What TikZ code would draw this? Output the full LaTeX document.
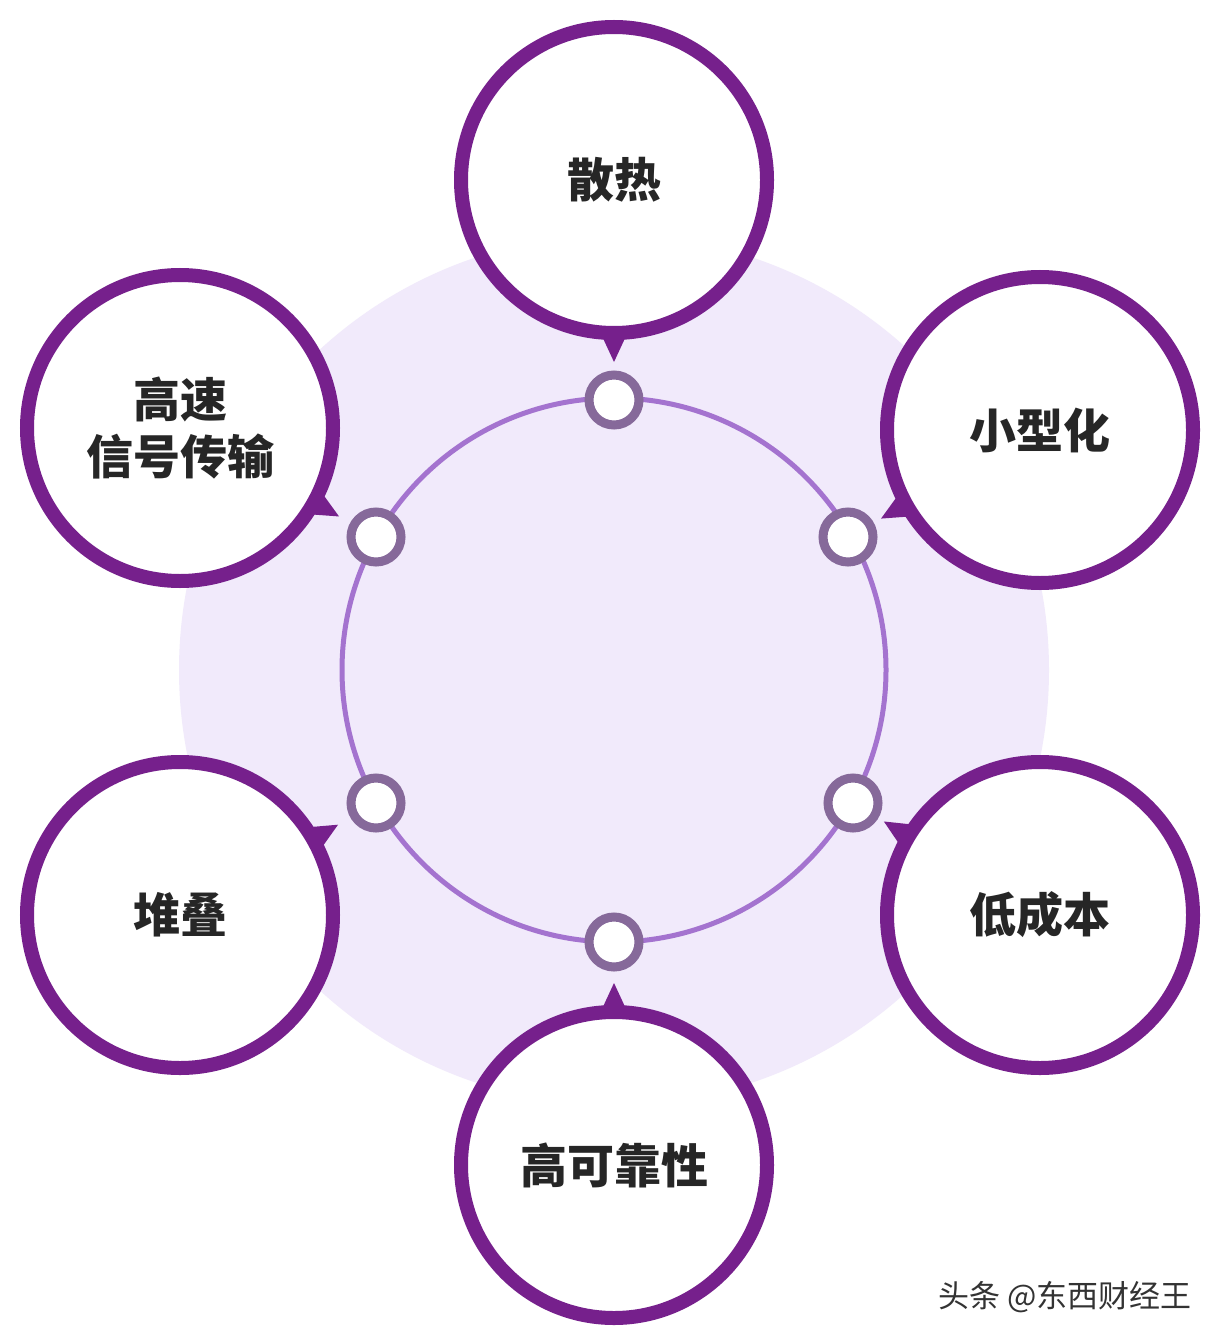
\documentclass[tikz,border=0pt]{standalone}
\usepackage{fontspec}
\setmainfont{Noto Sans CJK SC}
\usetikzlibrary{calc}
\definecolor{bigc}{HTML}{76208C}
\definecolor{halo}{HTML}{F1EAFB}
\definecolor{ringc}{HTML}{A473CF}
\definecolor{smallc}{HTML}{86699A}
\tikzset{
  bigcirc/.style={circle,draw=bigc,line width=14pt,fill=white,minimum size=306pt,inner sep=0pt,font=\fontsize{47}{57}\selectfont\bfseries,align=center,text=black!85},
  dot/.style={circle,draw=smallc,line width=9pt,fill=white,minimum size=50pt,inner sep=0pt},
}
\begin{document}
\begin{tikzpicture}[x=1pt,y=-1pt]
\useasboundingbox (0,0) rectangle (1220,1340);
\fill[white] (0,0) rectangle (1220,1340);
\node[circle,fill=halo,minimum size=870pt,inner sep=0pt] (halo) at (614,670) {};
\node[circle,draw=ringc,line width=5pt,minimum size=544pt,inner sep=0pt] (ring) at (614,670) {};
\node[dot] (s1) at (614,400) {};
\node[dot] (s2) at (848,537) {};
\node[dot] (s3) at (853,803) {};
\node[dot] (s4) at (614,942) {};
\node[dot] (s5) at (376,803) {};
\node[dot] (s6) at (376,537) {};
\coordinate (c1) at (614,180);
\coordinate (c2) at (1040,430);
\coordinate (c3) at (1040,915);
\coordinate (c4) at (614,1165);
\coordinate (c5) at (180,915);
\coordinate (c6) at (180,428);
\foreach \i in {1,...,6}{
  \fill[bigc] ($(c\i)!145pt!7:(s\i)$) -- ($(c\i)!182pt!(s\i)$) -- ($(c\i)!145pt!-7:(s\i)$) -- cycle;
}
\node[bigcirc] (b1) at (c1) {散热};
\node[bigcirc] (b2) at (c2) {小型化};
\node[bigcirc] (b3) at (c3) {低成本};
\node[bigcirc] (b4) at (c4) {高可靠性};
\node[bigcirc] (b5) at (c5) {堆叠};
\node[bigcirc] (b6) at (c6) {高速\\信号传输};
\node[font=\fontsize{31}{36}\selectfont,text=black!80] (wm) at (1065,1297) {头条 @东西财经王};
\end{tikzpicture}
\end{document}
